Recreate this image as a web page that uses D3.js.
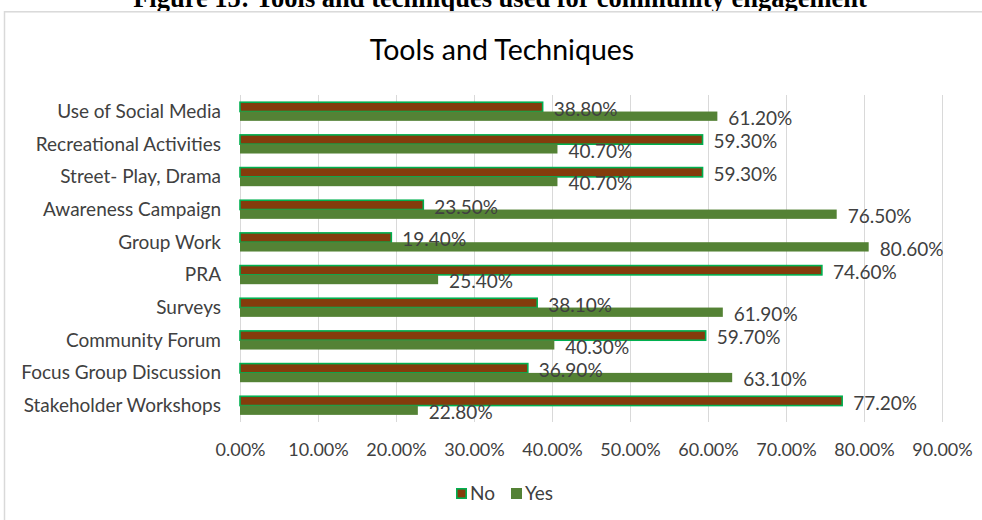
<!DOCTYPE html>
<html>
<head>
<meta charset="utf-8">
<script src="https://cdn.jsdelivr.net/npm/d3@7"></script>
<style>
  html, body { margin: 0; padding: 0; background: #fff; }
  svg { display: block; }
</style>
</head>
<body>
<svg id="chart" width="982" height="520"></svg>
<script>
// Community engagement tools: share answering No / Yes (percent)
const categories = [
  "Use of Social Media",
  "Recreational Activities",
  "Street- Play, Drama",
  "Awareness Campaign",
  "Group Work",
  "PRA",
  "Surveys",
  "Community Forum",
  "Focus Group Discussion",
  "Stakeholder Workshops"
];
const noValues  = [38.8, 59.3, 59.3, 23.5, 19.4, 74.6, 38.1, 59.7, 36.9, 77.2];
const yesValues = [61.2, 40.7, 40.7, 76.5, 80.6, 25.4, 61.9, 40.3, 63.1, 22.8];
const seriesNames = ["No", "Yes"];
const xTicks = [0, 10, 20, 30, 40, 50, 60, 70, 80, 90];

const rows = categories.map((c, i) => ({ cat: c, No: noValues[i], Yes: yesValues[i] }));

const svg = d3.select("#chart");
const font = "Lato, 'Open Sans', sans-serif";
const textColor = "#404040";
const colors = { No: "#843C0C", Yes: "#548235" };
const noStroke = "#00B050";

// figure caption above the chart frame
svg.append("text")
  .attr("x", 500).attr("y", 6.5)
  .attr("text-anchor", "middle")
  .attr("font-family", "'Liberation Serif', 'Times New Roman', serif")
  .attr("font-weight", "bold")
  .attr("font-size", 26.5)
  .attr("fill", "#000")
  .text("Figure 15: Tools and techniques used for community engagement");

// chart frame
svg.append("rect")
  .attr("x", 4.5).attr("y", 11.8)
  .attr("width", 990).attr("height", 520)
  .attr("fill", "#fff")
  .attr("stroke", "#d9d9d9").attr("stroke-width", 1.5);

// chart title
svg.append("text")
  .attr("x", 502).attr("y", 60)
  .attr("text-anchor", "middle")
  .attr("font-family", font)
  .attr("font-size", 28.5)
  .attr("fill", "#000")
  .text("Tools and Techniques");

const x = d3.scaleLinear().domain([0, 90]).range([240, 942]);
const y = d3.scaleBand().domain(categories).range([95.2, 421.9]).paddingInner(0.43).paddingOuter(0.215);
const ySub = d3.scaleBand().domain(seriesNames).range([0, y.bandwidth()]);

// vertical gridlines
svg.append("g")
  .selectAll("line")
  .data(xTicks)
  .join("line")
  .attr("x1", d => Math.round(x(d)) + 0.5).attr("x2", d => Math.round(x(d)) + 0.5)
  .attr("y1", 95).attr("y2", 422)
  .attr("stroke", "#d9d9d9").attr("stroke-width", 1);

// x axis tick labels
const xAxis = d3.axisBottom(x)
  .tickValues(xTicks)
  .tickSize(0)
  .tickPadding(0)
  .tickFormat(d => d.toFixed(2) + "%");
const gx = svg.append("g").attr("transform", "translate(0,449.5)").call(xAxis);
gx.select(".domain").remove();
gx.selectAll("text")
  .attr("font-family", font).attr("font-size", 18)
  .attr("fill", textColor).attr("dy", "0.36em").attr("y", 0);

// y axis category labels
const yAxis = d3.axisLeft(y).tickSize(0).tickPadding(0);
const gy = svg.append("g").attr("transform", "translate(221,0.5)").call(yAxis);
gy.select(".domain").remove();
gy.selectAll("text")
  .attr("font-family", font).attr("font-size", 19)
  .attr("fill", textColor);

// bars
const groups = svg.append("g")
  .selectAll("g")
  .data(rows)
  .join("g")
  .attr("transform", d => `translate(0,${y(d.cat)})`);

groups.selectAll("rect")
  .data(d => seriesNames.map(k => ({ key: k, value: d[k] })))
  .join("rect")
  .attr("x", x(0))
  .attr("y", d => ySub(d.key))
  .attr("width", d => x(d.value) - x(0))
  .attr("height", d => ySub.bandwidth())
  .attr("fill", d => colors[d.key])
  .attr("stroke", d => d.key === "No" ? noStroke : "none")
  .attr("stroke-width", 1.6);

// value labels
groups.selectAll("text")
  .data(d => seriesNames.map(k => ({ key: k, value: d[k] })))
  .join("text")
  .attr("x", d => x(d.value) + 11)
  .attr("y", d => ySub(d.key) + ySub.bandwidth() / 2 + 2)
  .attr("dy", "0.36em")
  .attr("font-family", font).attr("font-size", 19)
  .attr("fill", textColor)
  .text(d => d.value.toFixed(2) + "%");

// legend
const legend = svg.append("g").attr("transform", "translate(456,488)");
const legendItems = [
  { key: "No", x: 0 },
  { key: "Yes", x: 55 }
];
const li = legend.selectAll("g").data(legendItems).join("g")
  .attr("transform", d => `translate(${d.x},0)`);
li.append("rect")
  .attr("x", d => d.key === "No" ? 0.8 : 0)
  .attr("y", d => d.key === "No" ? 0.8 : 0)
  .attr("width", d => d.key === "No" ? 9.4 : 11)
  .attr("height", d => d.key === "No" ? 9.4 : 11)
  .attr("fill", d => colors[d.key])
  .attr("stroke", d => d.key === "No" ? noStroke : "none")
  .attr("stroke-width", 1.6);
li.append("text")
  .attr("x", 14).attr("y", 5.5).attr("dy", "0.36em")
  .attr("font-family", font).attr("font-size", 19)
  .attr("fill", textColor)
  .text(d => d.key);
</script>
</body>
</html>
